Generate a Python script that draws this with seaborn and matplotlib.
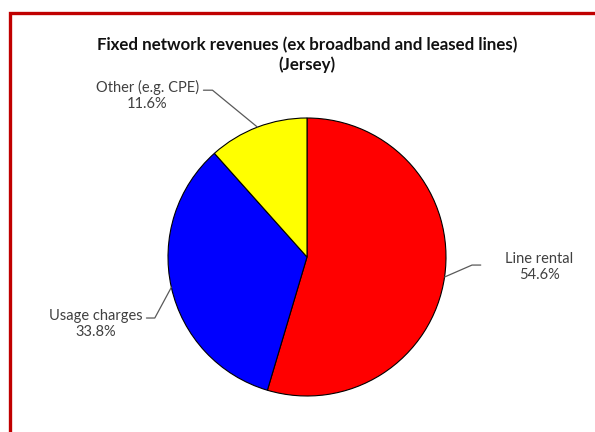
import numpy as np
import seaborn as sns
import matplotlib.pyplot as plt
from matplotlib.patches import Rectangle

# Datos
categorias = ["Line rental", "Usage charges", "Other (e.g. CPE)"]
porcentajes = [54.6, 33.8, 11.6]
colores = ["#FF0000", "#0000FF", "#FFFF00"]

# Posiciones de etiquetas (centro del texto) y codo de la línea guía, en coords del pie
pos_texto = [(1.67, -0.07), (-1.52, -0.48), (-1.15, 1.16)]
pos_codo = [(1.187, -0.058), (-1.095, -0.439), (-0.68, 1.20)]
pos_fin = [(1.25, -0.058), (-1.155, -0.439), (-0.745, 1.20)]

sns.set_theme(style="white")
plt.rcParams["font.family"] = ["Lato", "DejaVu Sans"]

fig = plt.figure(figsize=(5.95, 4.32), dpi=100)
fig.patch.set_facecolor("white")

# Borde rojo del gráfico
fig.patches.append(Rectangle((10 / 595, -0.1), 1.2, 419 / 432 + 0.1,
                             transform=fig.transFigure, fill=False,
                             edgecolor="#C00000", linewidth=2.4))

# Título
fig.text(307 / 595, 1 - 55 / 432,
         "Fixed network revenues (ex broadband and leased lines)\n(Jersey)",
         ha="center", va="center", fontsize=12.2, fontweight="bold",
         color="#111111", linespacing=1.25)

ax = fig.add_axes([168 / 595, 36 / 432, 278 / 595, 278 / 432])
wedges, _ = ax.pie(porcentajes, colors=colores, startangle=90, counterclock=False,
                   wedgeprops=dict(edgecolor="black", linewidth=0.8))
ax.set_xlim(-1, 1)
ax.set_ylim(-1, 1)
ax.set_aspect("equal")
ax.axis("off")

# Etiquetas con líneas guía
for w, cat, pct, (tx, ty), (cx, cy), (ex, ey) in zip(wedges, categorias, porcentajes,
                                                      pos_texto, pos_codo, pos_fin):
    ang = np.deg2rad((w.theta1 + w.theta2) / 2)
    x0, y0 = np.cos(ang), np.sin(ang)
    ax.plot([x0, cx, ex], [y0, cy, ey], color="#595959", linewidth=0.9, clip_on=False)
    ax.text(tx, ty, f"{cat}\n{pct:.1f}%", ha="center", va="center",
            fontsize=10.5, color="#404040", linespacing=1.2, clip_on=False)

plt.savefig("out.png", dpi=100)
